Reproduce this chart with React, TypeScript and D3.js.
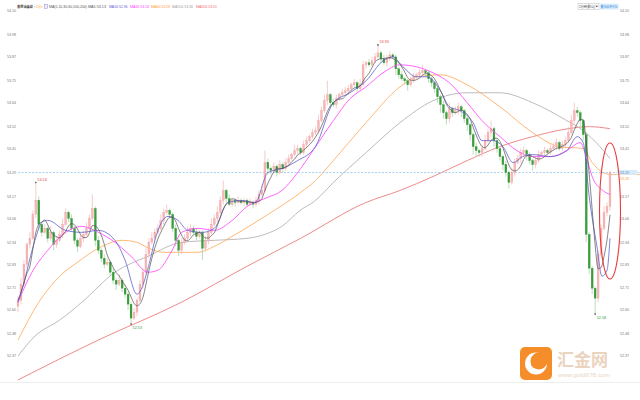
import React from 'react';
import * as d3 from 'd3';

// ---- candle data (1-minute bars) ----
const firstOpen = 52.62;
const closes = [
  52.65,52.73,52.83,52.93,52.96,53.08,53.15,53.03,52.99,53.01,
  52.96,52.99,52.93,52.95,52.98,53.03,53.09,53.06,53.01,52.95,
  52.92,52.96,52.98,53.01,53.06,53.11,52.95,52.90,52.86,52.83,
  52.84,52.79,52.75,52.73,52.75,52.71,52.68,52.63,52.56,52.59,
  52.65,52.73,52.79,52.88,52.94,52.96,52.99,53.01,53.05,53.09,
  53.10,53.08,53.01,52.95,52.90,52.94,52.96,52.99,53.01,52.99,
  52.97,52.99,52.91,52.95,52.99,53.03,53.06,53.09,53.15,53.20,
  53.16,53.13,53.15,53.14,53.15,53.14,53.15,53.13,53.14,53.13,
  53.15,53.18,53.20,53.34,53.31,53.30,53.32,53.29,53.33,53.31,
  53.34,53.36,53.38,53.40,53.41,53.39,53.43,53.45,53.47,53.49,
  53.50,53.55,53.60,53.65,53.68,53.64,53.63,53.66,53.68,53.69,
  53.70,53.71,53.73,53.74,53.71,53.73,53.83,53.84,53.83,53.85,
  53.87,53.89,53.86,53.84,53.86,53.88,53.87,53.81,53.78,53.76,
  53.75,53.73,53.75,53.77,53.78,53.79,53.80,53.79,53.76,53.74,
  53.71,53.67,53.63,53.59,53.56,53.61,53.59,53.60,53.62,53.60,
  53.56,53.53,53.48,53.42,53.40,53.39,53.41,53.45,53.49,53.51,
  53.45,53.41,53.37,53.33,53.29,53.24,53.29,53.34,53.36,53.39,
  53.40,53.38,53.35,53.33,53.35,53.38,53.39,53.40,53.39,53.41,
  53.42,53.44,53.41,53.43,53.45,53.49,53.55,53.60,53.59,53.55,
  53.48,52.98,52.81,52.71,52.66,52.88,53.01,53.09,53.12,53.29,
];
// upper / lower shadow lengths in cents
const hiExt = [
  2,3,2,1,3,2,9,2,1,2, 1,3,1,2,2,3,2,1,2,1, 1,2,2,3,2,7,1,2,1,2, 2,1,2,1,3,1,2,1,1,2,
  1,2,2,3,2,3,2,2,3,2, 3,1,1,2,1,2,2,3,2,1, 2,1,1,2,2,3,2,3,2,5, 1,2,1,1,2,1,1,1,2,1,
  2,2,3,6,2,1,2,1,2,1, 2,2,1,3,2,1,2,2,1,2, 2,3,2,3,7,1,2,2,1,2, 2,2,1,2,1,3,2,1,2,2,
  2,4,1,2,2,2,1,1,1,2, 1,1,2,2,1,2,3,1,1,1, 1,1,1,2,1,3,1,2,2,1, 1,1,1,1,2,1,2,3,2,4,
  1,1,1,1,2,1,2,2,2,2, 2,1,1,1,2,2,1,2,1,2, 2,2,1,2,2,3,3,4,2,1, 1,1,1,1,1,2,2,3,2,1,
];
const loExt = [
  3,2,1,2,2,1,2,3,2,1, 2,1,3,2,1,2,1,2,1,2, 3,1,2,1,1,1,3,2,2,2, 1,2,2,3,1,2,2,3,3,1,
  2,1,2,1,2,1,2,1,1,2, 1,2,2,3,3,2,1,1,2,1, 2,1,6,1,2,1,1,2,1,2, 2,1,1,2,1,1,2,1,1,2,
  1,2,1,1,3,2,1,2,1,2, 1,2,1,1,2,1,1,2,1,1, 1,1,1,1,2,2,1,2,1,1, 1,2,1,1,2,1,1,2,1,1,
  1,1,2,1,2,1,1,3,2,1, 2,3,1,1,1,1,1,2,2,2, 2,3,4,3,3,2,2,1,2,3, 2,3,3,4,3,2,2,1,1,2,
  3,2,2,3,2,3,1,2,1,2, 2,3,2,3,2,1,1,2,1,1, 1,2,1,1,2,1,1,2,2,3, 3,4,3,3,8,2,2,1,2,2,
];

// ---- moving averages: [bar index, value] ----
const ma10Pts: [number, number][] = [
  [0,52.64],[1.3,52.70],[5.7,52.95],[8,53.04],[10,53.05],[16,53.00],[21.5,52.99],[27,53.00],
  [32.6,52.95],[36,52.85],[40,52.68],[44.4,52.85],[46,52.95],[50.4,53.07],[53.8,53.05],
  [57,53.00],[62,52.99],[66,53.01],[70.6,53.14],[75,53.15],[79.7,53.14],[84,53.29],
  [88.7,53.31],[94,53.35],[100,53.42],[106,53.64],[111.6,53.69],[117,53.75],[122.7,53.85],
  [126,53.87],[129.4,53.82],[134,53.77],[137.5,53.77],[142,53.70],[145,53.62],[148.6,53.60],
  [153,53.54],[156,53.45],[159.7,53.45],[163,53.42],[166.4,53.34],[169.7,53.37],[173,53.38],
  [179,53.37],[184.5,53.40],[188,53.47],[190,53.44],[192,53.17],[194.6,52.92],[196.3,52.77],
  [198,52.80],[199,52.96],
];
const ma30Pts: [number, number][] = [
  [0,52.64],[4.7,52.79],[10,52.90],[16,52.99],[21.5,53.02],[27,52.99],[32.6,52.94],[38,52.87],
  [43.7,52.79],[47,52.80],[51.8,52.90],[55,52.99],[60.5,53.01],[66,53.00],[72,53.05],[77,53.12],
  [83,53.16],[88.7,53.20],[95,53.31],[100.5,53.43],[106,53.55],[111.6,53.66],[117,53.72],
  [122.7,53.79],[128.4,53.83],[134,53.82],[139.5,53.79],[145,53.74],[151,53.64],[156,53.55],
  [162,53.47],[167.7,53.40],[173,53.37],[179,53.37],[184.5,53.40],[189,53.44],[191,53.37],
  [193,53.27],[196.6,53.20],[199,53.18],
];
const ma60Pts: [number, number][] = [
  [0,52.45],[7,52.64],[14,52.77],[20,52.84],[27,52.91],[35,52.95],[40,52.94],[44,52.91],[49,52.89],
  [60.5,52.89],[66,52.92],[72,52.97],[83,53.07],[95,53.19],[100,53.25],[106,53.35],[117,53.54],
  [128.4,53.72],[134,53.77],[142,53.78],[151,53.73],[162,53.62],[173,53.49],[182,53.42],
  [190,53.41],[193,53.34],[196.6,53.29],[199,53.28],
];
const ma100Pts: [number, number][] = [
  [0,52.37],[5.7,52.47],[14,52.55],[21.5,52.64],[32.6,52.79],[43.7,52.87],[55,52.94],[66,52.95],
  [77,52.96],[83,52.98],[88.7,53.02],[94.8,53.10],[100,53.15],[106,53.24],[117,53.39],
  [128.4,53.54],[139.5,53.65],[151,53.69],[156,53.69],[162,53.69],[173,53.64],[184.5,53.55],
  [190,53.50],[195.6,53.42],[199,53.36],
];
const ma200Pts: [number, number][] = [
  [0,52.25],[27,52.45],[55,52.64],[77,52.82],[95,52.96],[117,53.14],[128.4,53.20],[139.5,53.27],
  [151,53.35],[162,53.42],[173,53.47],[185,53.51],[192,53.52],[199,53.51],
];

// ---- axis / labels ----
const yTicks = ['54.10','53.98','53.87','53.75','53.64','53.52','53.41','53.29','53.17','53.06','52.94','52.83','52.71','52.60','52.48','52.37'];
const markers = [
  { i: 6, kind: 'high', label: '53.24' },
  { i: 38, kind: 'low', label: '52.53' },
  { i: 121, kind: 'high', label: '53.93' },
  { i: 194, kind: 'low', label: '52.58' },
];
const lastPrice = 53.29;
const ma60Last = 53.28;
const legendItems = [
  { text: 'MA5:53.13', color: '#555555', x: 88, w: 18 },
  { text: 'MA10:52.96', color: '#5a5acc', x: 109, w: 18.5 },
  { text: 'MA30:53.18', color: '#ff40ff', x: 130, w: 19 },
  { text: 'MA60:53.28', color: '#ff9c40', x: 151, w: 19 },
  { text: 'MA100:53.36', color: '#a0a0a0', x: 172, w: 21 },
  { text: 'MA200:53.51', color: '#ee6a6a', x: 196, w: 21 },
];

export default function App() {
  const W = 640, H = 400;
  const N = closes.length;
  const x = d3.scaleLinear().domain([0, N - 1]).range([18, 610]);
  const y = d3.scaleLinear().domain([52.37, 54.10]).range([356, 11]);
  const opens = closes.map((c, i) => (i === 0 ? firstOpen : closes[i - 1]));
  const highs = closes.map((c, i) => Math.max(c, opens[i]) + hiExt[i] / 100);
  const lows = closes.map((c, i) => Math.min(c, opens[i]) - loExt[i] / 100);
  const ma5 = closes.map((c, i) => {
    const s = closes.slice(Math.max(0, i - 4), i + 1);
    return d3.mean(s) as number;
  });
  const line = d3.line<[number, number]>().x(d => x(d[0])).y(d => y(d[1])).curve(d3.curveMonotoneX);
  const bw = 1.9;
  const font = "'Liberation Sans', Arial, 'Noto Sans CJK SC', sans-serif";

  return (
    <svg width={W} height={H} style={{ position: 'absolute', left: 0, top: 0, background: '#fff' }} fontFamily={font}>
      <rect x={0} y={0} width={W} height={H} fill="#fff" />
      {/* bottom frame line */}
      <line x1={0} x2={640} y1={382.5} y2={382.5} stroke="#eeeeee" strokeWidth={1} />

      {/* axis labels */}
      {yTicks.map(t => (
        <g key={t}>
          <text x={7} y={y(+t) + 1.3} fontSize={3.6} fill="#777">{t}</text>
          <text x={620} y={y(+t) + 1.3} fontSize={3.6} fill="#777">{t}</text>
        </g>
      ))}

      {/* moving averages behind */}
      <path d={line(ma200Pts) || ''} fill="none" stroke="#ee8a8a" strokeWidth={1} />
      <path d={line(ma100Pts) || ''} fill="none" stroke="#b4b4b4" strokeWidth={0.9} />
      <path d={line(ma60Pts) || ''} fill="none" stroke="#ffb066" strokeWidth={0.9} />

      {/* current price line */}
      <line x1={18} x2={640} y1={y(lastPrice)} y2={y(lastPrice)} stroke="#9ccaf2" strokeWidth={0.9} strokeDasharray="2,1.5" />
      <line x1={x(N - 1)} x2={640} y1={y(ma60Last)} y2={y(ma60Last)} stroke="#ffb066" strokeWidth={0.8} />

      {/* candles */}
      {closes.map((c, i) => {
        const o = opens[i];
        const up = c >= o;
        const cx = x(i);
        const top = y(Math.max(o, c));
        const bot = y(Math.min(o, c));
        return (
          <g key={i}>
            <line x1={cx} x2={cx} y1={y(highs[i])} y2={y(lows[i])} stroke={up ? '#f4b4b4' : '#9dd09d'} strokeWidth={0.7} />
            <rect x={cx - bw / 2} y={top} width={bw} height={Math.max(0.6, bot - top)}
              fill={up ? '#f6b8b8' : '#3a9e3a'} stroke={up ? '#ee9a9a' : '#2f8f2f'} strokeWidth={0.3} />
          </g>
        );
      })}

      {/* faster averages on top */}
      <path d={line(ma30Pts) || ''} fill="none" stroke="#ff55ff" strokeWidth={0.9} />
      <path d={line(ma10Pts) || ''} fill="none" stroke="#6060cc" strokeWidth={0.8} />
      <path d={line(ma5.map((v, i) => [i, v] as [number, number])) || ''} fill="none" stroke="#505050" strokeWidth={0.7} />

      {/* high/low markers */}
      {markers.map(m => {
        const v = m.kind === 'high' ? highs[m.i] : lows[m.i];
        const px = x(m.i), py = y(v);
        return (
          <g key={m.label}>
            <circle cx={px} cy={py} r={0.8} fill="#444" />
            <text x={px + 1.5} y={m.kind === 'high' ? py - 2 : py + 5} fontSize={3.8}
              fill={m.kind === 'high' ? '#e04848' : '#3aa03a'}>{m.label}</text>
          </g>
        );
      })}

      {/* right-side price labels */}
      <rect x={617} y={y(lastPrice) - 2.6} width={20} height={5} fill="#d8ebfb" />
      <text x={620} y={y(lastPrice) + 1.3} fontSize={3.6} fill="#5b8fc8">{lastPrice.toFixed(2)}</text>
      <text x={620} y={y(ma60Last) + 5.5} fontSize={3.6} fill="#ff9c40">{ma60Last.toFixed(2)}</text>

      {/* highlight ellipse */}
      <ellipse cx={610} cy={211} rx={10.5} ry={68} fill="none" stroke="#e83a3a" strokeWidth={1.1} />

      {/* legend */}
      <text x={17} y={8} fontSize={3.4} fill="#333" fontWeight="bold" textLength={16} lengthAdjust="spacingAndGlyphs">黄原油连续</text>
      <text x={34} y={8} fontSize={3.4} fill="#ff9a2e" textLength={9} lengthAdjust="spacingAndGlyphs">&lt;1分&gt;</text>
      <rect x={44.5} y={4.5} width={3.2} height={4} fill="#eef" stroke="#7777cc" strokeWidth={0.4} />
      <text x={49} y={8} fontSize={3.4} fill="#555" textLength={38} lengthAdjust="spacingAndGlyphs">MA(5,10,30,60,100,200)</text>
      {legendItems.map(l => (
        <text key={l.text} x={l.x} y={8} fontSize={3.4} fill={l.color} textLength={l.w} lengthAdjust="spacingAndGlyphs">{l.text}</text>
      ))}

      {/* top-right controls */}
      <rect x={578} y={3.5} width={21} height={6} fill="#fff" stroke="#aaa" strokeWidth={0.4} />
      <text x={579} y={8} fontSize={3.4} fill="#333" textLength={16} lengthAdjust="spacingAndGlyphs">1分钟(默认)</text>
      <path d="M595.5,5.8 L598,5.8 L596.75,7.3 Z" fill="#333" />
      <rect x={600} y={3.5} width={18.5} height={6} fill="#ddeefc" />
      <text x={600.5} y={8} fontSize={3.4} fill="#3d8ee0" textLength={17.5} lengthAdjust="spacingAndGlyphs">叠加品种对比</text>

      {/* watermark */}
      <g opacity={0.95}>
        <rect x={520} y={347} width={32} height={33} rx={5} fill="#f5891f" />
        <circle cx={536} cy={363.5} r={11} fill="#fff" />
        <circle cx={539} cy={361} r={8.5} fill="#f5891f" />
        <circle cx={536} cy={363.5} r={5} fill="#f5891f" />
        <text x={557} y={366} fontSize={17} fill="#ead2bb" fontFamily="'Noto Sans CJK SC', sans-serif" fontWeight="bold" textLength={51} lengthAdjust="spacingAndGlyphs">汇金网</text>
        <text x={558} y={377} fontSize={5.5} fill="#e8d3bf" textLength={52} lengthAdjust="spacingAndGlyphs">www.gold678.com</text>
      </g>
    </svg>
  );
}
